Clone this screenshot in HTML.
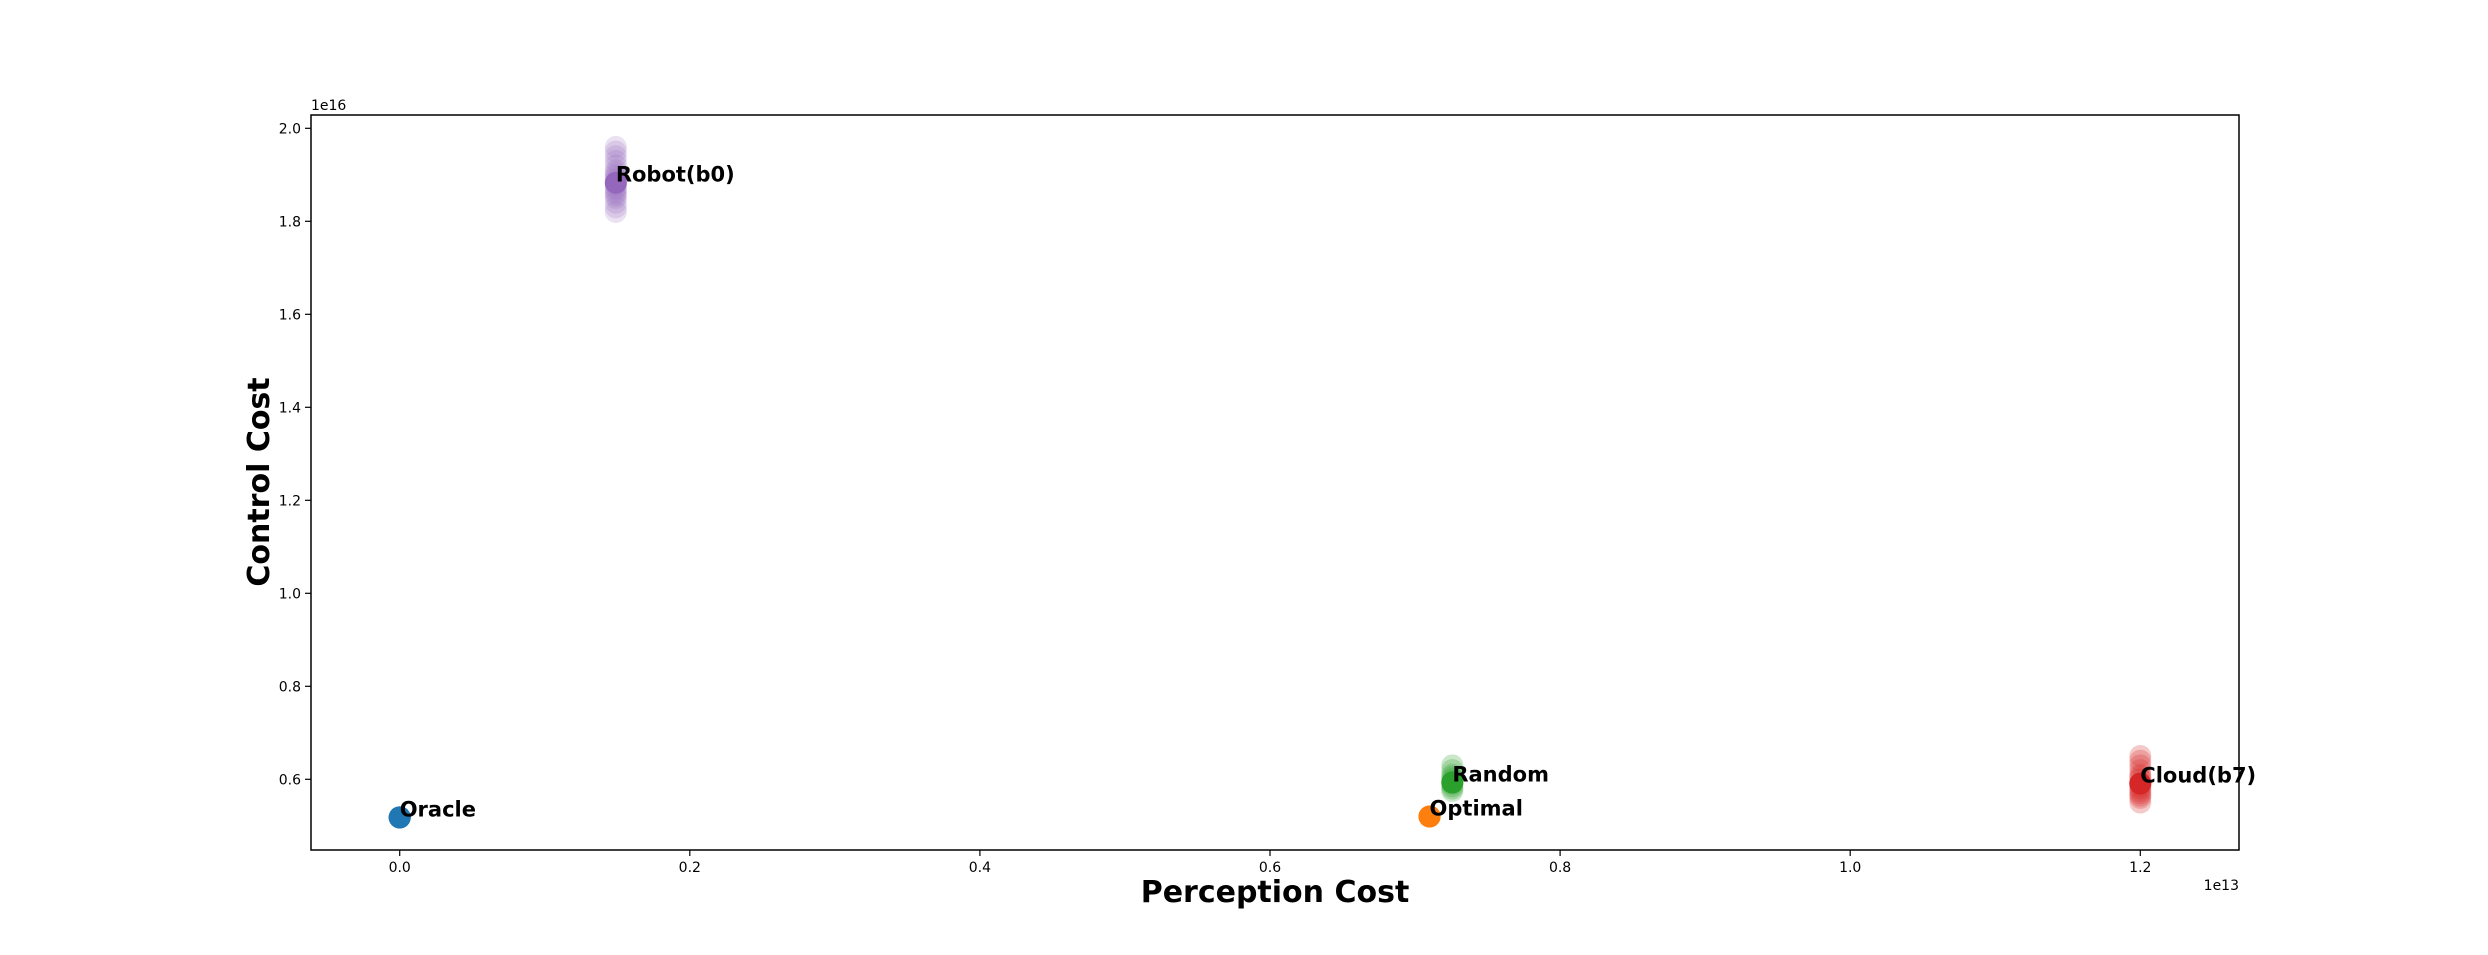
<!DOCTYPE html>
<html><head><meta charset="utf-8"><style>
html,body{margin:0;padding:0;background:#fff;}
svg{display:block;font-family:"DejaVu Sans","Liberation Sans",sans-serif;}
</style></head><body>
<svg id="chart" width="2488" height="955" viewBox="0 0 2488 955">
<rect x="0" y="0" width="2488" height="955" fill="#fff"/>
<g id="plot"></g>
<g id="axes"></g>
</svg>
<script>
const seriesNames = ["Oracle","Optimal","Random","Cloud(b7)","Robot(b0)"];
const seriesColors = ["#1f77b4","#ff7f0e","#2ca02c","#d62728","#9467bd"];
const seriesX = [0.0, 0.71, 0.7257, 1.2, 0.149];
const oracleY = [0.518, 0.518, 0.518];
const optimalY = [0.520, 0.520, 0.520];
const randomY = [0.575, 0.58, 0.585, 0.59, 0.593, 0.593, 0.595, 0.60, 0.605, 0.61, 0.62, 0.63];
const cloudY = [0.55, 0.56, 0.565, 0.57, 0.575, 0.58, 0.585, 0.59, 0.591, 0.591, 0.60, 0.605, 0.61, 0.62, 0.63, 0.64, 0.65];
const robotY = [1.82, 1.83, 1.84, 1.85, 1.855, 1.86, 1.865, 1.87, 1.875, 1.88, 1.883, 1.883, 1.89, 1.895, 1.90, 1.905, 1.91, 1.92, 1.93, 1.94, 1.95, 1.96];
const xTicks = [0.0, 0.2, 0.4, 0.6, 0.8, 1.0, 1.2];
const yTicks = [0.6, 0.8, 1.0, 1.2, 1.4, 1.6, 1.8, 2.0];

const L=311, R=2239, T=115, B=850;
function sx(v){ return 399.7 + v*1450.5; }
function sy(v){ return 128.3 + (2.0 - v)*465; }
const NS="http://www.w3.org/2000/svg";
function mk(tag, attrs, parent){ const e=document.createElementNS(NS,tag); for(const k in attrs) e.setAttribute(k,attrs[k]); parent.appendChild(e); return e; }
const plot=document.getElementById('plot'), axes=document.getElementById('axes');
const allY=[oracleY,optimalY,randomY,cloudY,robotY];
const alphas=[1,1,0.25,0.25,0.2];
allY.forEach((ys,i)=>{
  ys.forEach((y,j)=>{
    const c=mk('circle',{cx:sx(seriesX[i]),cy:sy(y),r:11,fill:seriesColors[i],'fill-opacity':alphas[i]},plot);
    
    
  });
});
const mainY=[0.518,0.520,0.593,0.591,1.883];
mainY.forEach((y,i)=>{
  const c=mk('circle',{cx:sx(seriesX[i]),cy:sy(y),r:11,fill:seriesColors[i]},plot);
  
  
  const t=mk('text',{x:sx(seriesX[i]),y:sy(y)-1,'font-size':21,'font-weight':'bold',fill:'#000'},plot);
  t.textContent=seriesNames[i];
  
  
});
const frame=mk('rect',{x:L,y:T,width:R-L,height:B-T,fill:'none',stroke:'#000','stroke-width':1.5},axes);


xTicks.forEach(v=>{
  const x=sx(v);
  const l=mk('line',{x1:x,x2:x,y1:B,y2:B+6,stroke:'#000','stroke-width':1.2},axes);
  
  
  const t=mk('text',{x:x,y:B+22,'font-size':14,'text-anchor':'middle',fill:'#000'},axes);
  t.textContent=v.toFixed(1);
  
  
});
yTicks.forEach(v=>{
  const y=sy(v);
  const l=mk('line',{x1:L-6,x2:L,y1:y,y2:y,stroke:'#000','stroke-width':1.2},axes);
  
  
  const t=mk('text',{x:L-10,y:y+5,'font-size':14,'text-anchor':'end',fill:'#000'},axes);
  t.textContent=v.toFixed(1);
  
  
});
</script>
<div style="position:absolute;left:0;top:0;width:2488px;height:955px;pointer-events:none;">
<svg width="2488" height="955" style="position:absolute;left:0;top:0;font-family:'DejaVu Sans','Liberation Sans',sans-serif;">
<text x="311" y="110" font-size="14" fill="#000">1e16</text>
<text x="2239" y="890" font-size="14" text-anchor="end" fill="#000">1e13</text>
<text x="1275" y="902" font-size="30" font-weight="bold" text-anchor="middle" fill="#000">Perception Cost</text>
<text x="0" y="0" font-size="30" font-weight="bold" text-anchor="middle" fill="#000" transform="translate(269,482) rotate(-90)">Control Cost</text>
</svg>
</div>
</body></html>
